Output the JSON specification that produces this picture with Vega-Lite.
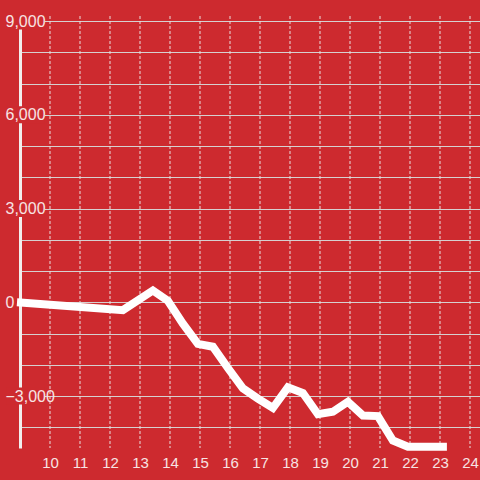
{
  "$schema": "https://vega.github.io/schema/vega-lite/v6.json",
  "width": 465,
  "height": 432,
  "autosize": {"type": "none"},
  "padding": {"left": 20, "top": 16, "right": 0, "bottom": 32},
  "background": "#cd2a2f",
  "config": {
    "view": {"stroke": null},
    "axis": {"labelFont": "Liberation Sans", "labelColor": "#f7e3e3", "title": null},
    "axisX": {"labelFontSize": 15, "labelOverlap": false},
    "axisY": {"labelFontSize": 16}
  },
  "datasets": {
    "series": [
      {"x": 8.9, "y": 0},
      {"x": 12.43, "y": -250},
      {"x": 13.43, "y": 380},
      {"x": 13.93, "y": 50},
      {"x": 14.43, "y": -680},
      {"x": 14.93, "y": -1330},
      {"x": 15.43, "y": -1420},
      {"x": 15.93, "y": -2100},
      {"x": 16.43, "y": -2750},
      {"x": 16.93, "y": -3080},
      {"x": 17.43, "y": -3380},
      {"x": 17.93, "y": -2720},
      {"x": 18.43, "y": -2900},
      {"x": 18.93, "y": -3580},
      {"x": 19.43, "y": -3500},
      {"x": 19.93, "y": -3180},
      {"x": 20.43, "y": -3620},
      {"x": 20.93, "y": -3640},
      {"x": 21.43, "y": -4420},
      {"x": 21.93, "y": -4620},
      {"x": 23.23, "y": -4620}
    ],
    "xticks": [{"t": 10}, {"t": 11}, {"t": 12}, {"t": 13}, {"t": 14}, {"t": 15}, {"t": 16}, {"t": 17}, {"t": 18}, {"t": 19}, {"t": 20}, {"t": 21}, {"t": 22}, {"t": 23}, {"t": 24}],
    "ylabelrows": [{"v": -3000}, {"v": 3000}, {"v": 6000}, {"v": 9000}]
  },
  "layer": [
    {
      "data": {"name": "xticks"},
      "mark": {"type": "rule", "color": "#e8e0e0", "strokeWidth": 1, "strokeDash": [3, 2]},
      "encoding": {
        "x": {"field": "t", "type": "quantitative", "axis": null}
      }
    },
    {
      "data": {"name": "ylabelrows"},
      "mark": {"type": "bar", "color": "#cd2a2f", "height": 17, "orient": "horizontal"},
      "encoding": {
        "x": {"datum": 8.55, "type": "quantitative", "axis": null},
        "x2": {"datum": 9.83},
        "y": {"field": "v", "type": "quantitative", "scale": {"domain": [-4500, 9000], "nice": false, "zero": false},
          "axis": {"orient": "left", "values": [-4000, -3000, -2000, -1000, 0, 1000, 2000, 3000, 4000, 5000, 6000, 7000, 8000, 9000], "grid": true, "gridColor": "#d6d0d0", "gridWidth": 1.2, "labels": false, "ticks": false, "domain": true, "domainColor": "#f2eeee", "domainWidth": 3, "zindex": 0}}
      }
    },
    {
      "mark": {"type": "rule", "color": "#f4f0f0", "strokeWidth": 3},
      "encoding": {"y": {"datum": 0, "type": "quantitative", "axis": null}}
    },
    {
      "data": {"name": "series"},
      "mark": {"type": "line", "color": "#ffffff", "strokeWidth": 8, "strokeCap": "butt"},
      "encoding": {
        "x": {"field": "x", "type": "quantitative", "scale": {"domain": [9, 24.5], "nice": false, "zero": false},
          "axis": {"values": [10, 11, 12, 13, 14, 15, 16, 17, 18, 19, 20, 21, 22, 23, 24], "format": "d", "labelOverlap": false, "grid": false, "domain": false, "ticks": false, "labelPadding": 7, "zindex": 0}},
        "y": {"field": "y", "type": "quantitative",
          "axis": {"orient": "left", "values": [-3000, 0, 3000, 6000, 9000], "labelExpr": "format(datum.value, ',.0f')", "grid": false, "domain": false, "ticks": false, "tickSize": 0, "labelAlign": "left", "labelPadding": 15, "zindex": 1}}
      }
    }
  ],
  "resolve": {"axis": {"x": "independent", "y": "independent"}}
}
